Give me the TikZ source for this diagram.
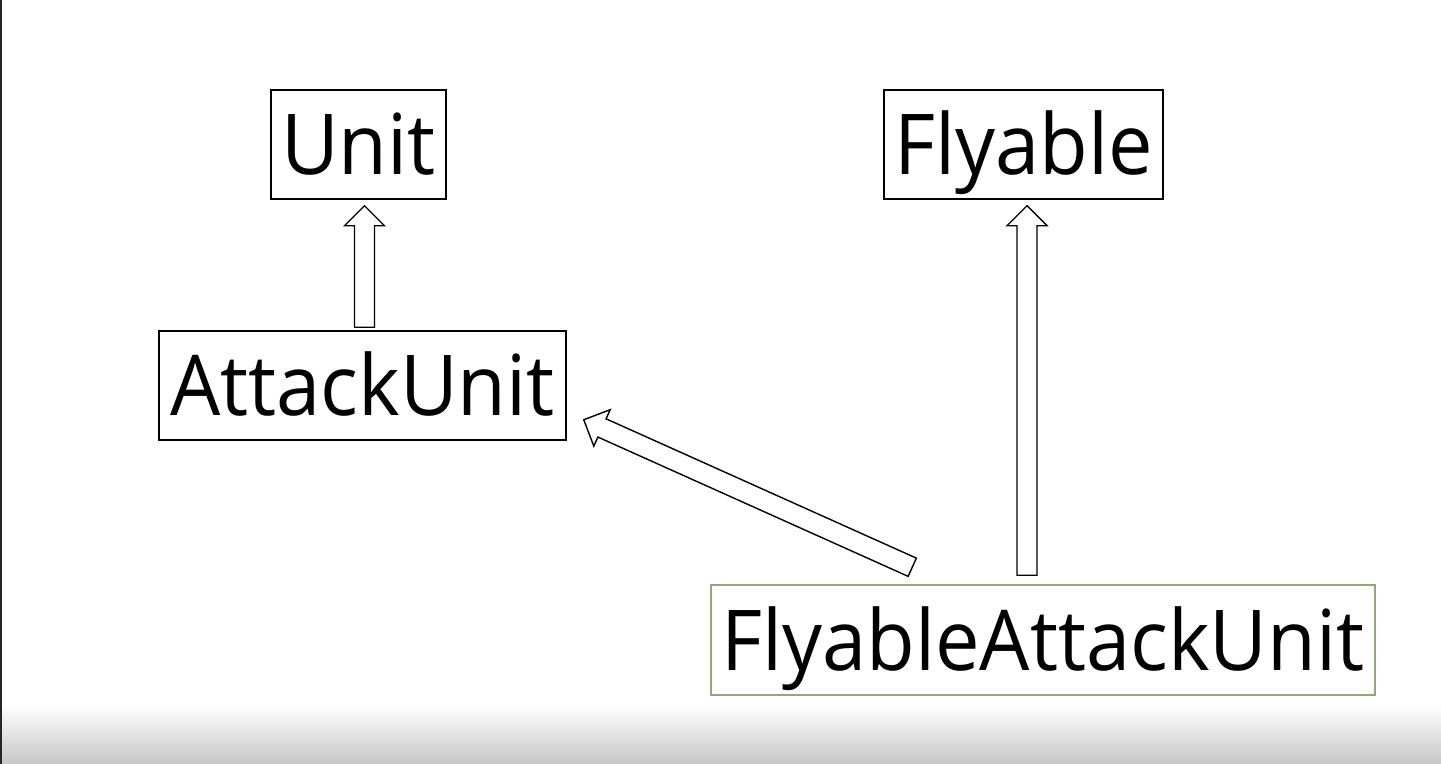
\documentclass[tikz,border=0pt]{standalone}
\usepackage{fontspec}
\setmainfont[FakeStretch=0.945]{Open Sans}
\usepackage{tikz}
\usetikzlibrary{calc,positioning}
\definecolor{boxgreen}{HTML}{8FAA74}
\definecolor{barlow}{HTML}{C6C6C6}

\tikzset{
  cls/.style={draw,line width=0.75pt,inner sep=0pt,font=\fontsize{42}{42}\selectfont,
              text height=30pt,text depth=0pt,minimum height=54.5pt},
  blk/.style={draw,line width=0.7pt,fill=white,line join=miter}
}
% hollow block arrow from #1 to #2
\newcommand{\inherit}[2]{%
  \path ($(#2)!10pt!(#1)$) coordinate (hb);
  \draw[blk] ($(#1)!5pt!90:(#2)$) -- ($(hb)!5pt!90:(#2)$) -- ($(hb)!10pt!90:(#2)$)
     -- (#2) -- ($(hb)!10pt!-90:(#2)$) -- ($(hb)!5pt!-90:(#2)$) -- ($(#1)!5pt!-90:(#2)$) -- cycle;
}

\begin{document}
\begin{tikzpicture}[x=0.5pt,y=-0.5pt]
        \useasboundingbox (0,0) rectangle (1441,764);
        \shade[top color=white,bottom color=barlow] (0,705) rectangle (1441,764);
        \draw[line width=1.2pt,black!85] (0.6,0) -- (0.6,764);

        \node[cls,minimum width=87.5pt] (unit) at (358.5,144.5) {Unit};
        \node[cls,minimum width=139.5pt] (fly) at (1023.5,144.5) {Flyable};
        \node[cls,minimum width=203.5pt] (attack) at (362.5,385.5) {AttackUnit};
        \node[cls,draw=boxgreen,minimum width=332pt,minimum height=55pt] (fau) at (1043,640) {FlyableAttackUnit};

        \coordinate (a1) at ($(attack.north)+(2,-3)$);
        \coordinate (u1) at ($(unit.south)+(6,6)$);
        \coordinate (f1) at ($(fau.north)+(-16,-9)$);
        \coordinate (y1) at ($(fly.south)+(3.5,6)$);
        \coordinate (f2) at ($(fau.north west)+(202,-17)$);
        \coordinate (a2) at ($(attack.south east)+(17,-21)$);

        \inherit{a1}{u1}
        \inherit{f1}{y1}
        \inherit{f2}{a2}
      \end{tikzpicture}
\end{document}
